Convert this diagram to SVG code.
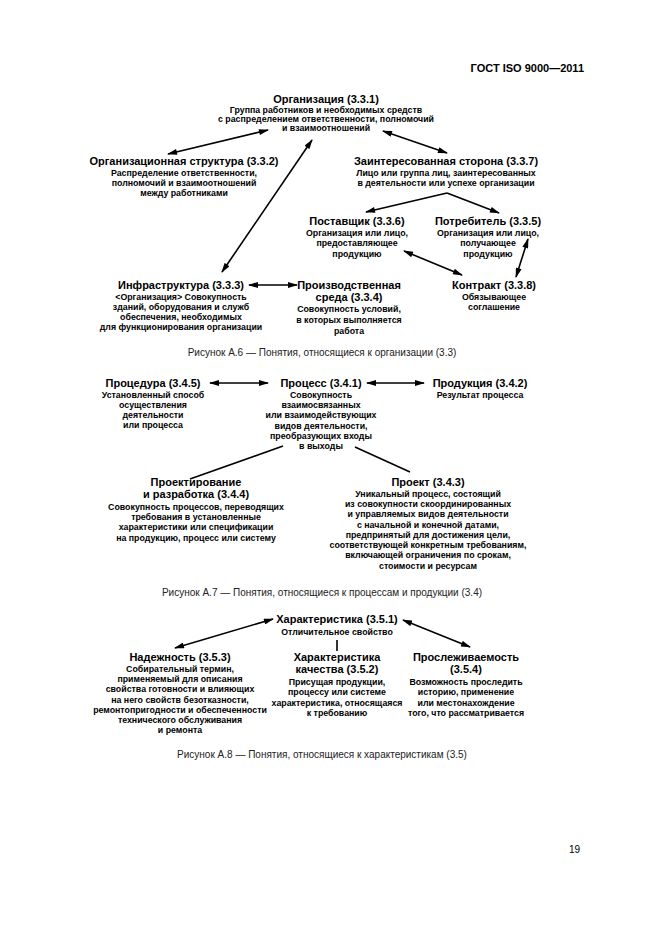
<svg xmlns="http://www.w3.org/2000/svg" width="661" height="935" viewBox="0 0 661 935">
<style>
text{font-family:"Liberation Sans",Arial,sans-serif;fill:#000}
.t{font-size:11px;font-weight:bold;text-anchor:middle}
.d{font-size:8.8px;font-weight:bold;text-anchor:middle}
.cap{font-size:10px;text-anchor:middle;fill:#222}
.hdr{font-size:11px;font-weight:bold;text-anchor:end}
.pg{font-size:10px;text-anchor:end}
.ln{stroke:#000;stroke-width:1.6;fill:none}
.dbl{marker-start:url(#ah);marker-end:url(#ah)}
.one{marker-end:url(#ah)}
</style>
<defs>
<marker id="ah" viewBox="0 0 10 6" refX="9" refY="3" markerWidth="11" markerHeight="6" markerUnits="userSpaceOnUse" orient="auto-start-reverse">
<path d="M0,0 L10,3 L0,6 z" fill="#000"/>
</marker>
</defs>
<rect width="661" height="935" fill="#fff"/>
<text class="hdr" x="584" y="72">ГОСТ ISO 9000—2011</text>

<!-- Figure A.6 -->
<g id="org">
<text class="t" x="326" y="103">Организация (3.3.1)</text>
<text class="d" x="326" y="113">Группа работников и необходимых средств</text>
<text class="d" x="326" y="122">с распределением ответственности, полномочий</text>
<text class="d" x="326" y="131">и взаимоотношений</text>
</g>
<g id="orgstruct">
<text class="t" x="184" y="165">Организационная структура (3.3.2)</text>
<text class="d" x="184" y="176">Распределение ответственности,</text>
<text class="d" x="184" y="186">полномочий и взаимоотношений</text>
<text class="d" x="184" y="196">между работниками</text>
</g>
<g id="interested">
<text class="t" x="446" y="165">Заинтересованная сторона (3.3.7)</text>
<text class="d" x="446" y="176">Лицо или группа лиц, заинтересованных</text>
<text class="d" x="446" y="186">в деятельности или успехе организации</text>
</g>
<g id="supplier">
<text class="t" x="357" y="225">Поставщик (3.3.6)</text>
<text class="d" x="357" y="236">Организация или лицо,</text>
<text class="d" x="357" y="246">предоставляющее</text>
<text class="d" x="357" y="257">продукцию</text>
</g>
<g id="customer">
<text class="t" x="488" y="225">Потребитель (3.3.5)</text>
<text class="d" x="488" y="236">Организация или лицо,</text>
<text class="d" x="488" y="246">получающее</text>
<text class="d" x="488" y="257">продукцию</text>
</g>
<g id="infra">
<text class="t" x="181" y="289">Инфраструктура (3.3.3)</text>
<text class="d" x="181" y="300">&lt;Организация&gt; Совокупность</text>
<text class="d" x="181" y="310">зданий, оборудования и служб</text>
<text class="d" x="181" y="320">обеспечения, необходимых</text>
<text class="d" x="181" y="330">для функционирования организации</text>
</g>
<g id="workenv">
<text class="t" x="349" y="289">Производственная</text>
<text class="t" x="349" y="301">среда (3.3.4)</text>
<text class="d" x="349" y="312">Совокупность условий,</text>
<text class="d" x="349" y="323">в которых выполняется</text>
<text class="d" x="349" y="334">работа</text>
</g>
<g id="contract">
<text class="t" x="494" y="289">Контракт (3.3.8)</text>
<text class="d" x="494" y="300">Обязывающее</text>
<text class="d" x="494" y="310">соглашение</text>
</g>
<text class="cap" x="322" y="356">Рисунок А.6 — Понятия, относящиеся к организации (3.3)</text>

<!-- Figure A.7 -->
<g id="procedure">
<text class="t" x="153" y="387">Процедура (3.4.5)</text>
<text class="d" x="153" y="398">Установленный способ</text>
<text class="d" x="153" y="408">осуществления</text>
<text class="d" x="153" y="418">деятельности</text>
<text class="d" x="153" y="428">или процесса</text>
</g>
<g id="process">
<text class="t" x="321" y="387">Процесс (3.4.1)</text>
<text class="d" x="321" y="398">Совокупность</text>
<text class="d" x="321" y="408">взаимосвязанных</text>
<text class="d" x="321" y="418">или взаимодействующих</text>
<text class="d" x="321" y="429">видов деятельности,</text>
<text class="d" x="321" y="439">преобразующих входы</text>
<text class="d" x="321" y="449">в выходы</text>
</g>
<g id="product">
<text class="t" x="480" y="387">Продукция (3.4.2)</text>
<text class="d" x="480" y="398">Результат процесса</text>
</g>
<g id="design">
<text class="t" x="196" y="486">Проектирование</text>
<text class="t" x="196" y="498">и разработка (3.4.4)</text>
<text class="d" x="196" y="510">Совокупность процессов, переводящих</text>
<text class="d" x="196" y="520">требования в установленные</text>
<text class="d" x="196" y="530">характеристики или спецификации</text>
<text class="d" x="196" y="541">на продукцию, процесс или систему</text>
</g>
<g id="project">
<text class="t" x="428" y="486">Проект (3.4.3)</text>
<text class="d" x="428" y="497">Уникальный процесс, состоящий</text>
<text class="d" x="428" y="507">из совокупности скоординированных</text>
<text class="d" x="428" y="517">и управляемых видов деятельности</text>
<text class="d" x="428" y="528">с начальной и конечной датами,</text>
<text class="d" x="428" y="538">предпринятый для достижения цели,</text>
<text class="d" x="428" y="548">соответствующей конкретным требованиям,</text>
<text class="d" x="428" y="558">включающей ограничения по срокам,</text>
<text class="d" x="428" y="569">стоимости и ресурсам</text>
</g>
<text class="cap" x="322" y="596">Рисунок А.7 — Понятия, относящиеся к процессам и продукции (3.4)</text>

<!-- Figure A.8 -->
<g id="characteristic">
<text class="t" x="337" y="623">Характеристика (3.5.1)</text>
<text class="d" x="337" y="635">Отличительное свойство</text>
</g>
<g id="dependability">
<text class="t" x="180" y="661">Надежность (3.5.3)</text>
<text class="d" x="180" y="672">Собирательный термин,</text>
<text class="d" x="180" y="682">применяемый для описания</text>
<text class="d" x="180" y="692">свойства готовности и влияющих</text>
<text class="d" x="180" y="703">на него свойств безотказности,</text>
<text class="d" x="180" y="713">ремонтопригодности и обеспеченности</text>
<text class="d" x="180" y="723">технического обслуживания</text>
<text class="d" x="180" y="733">и ремонта</text>
</g>
<g id="qualchar">
<text class="t" x="337" y="661">Характеристика</text>
<text class="t" x="337" y="673">качества (3.5.2)</text>
<text class="d" x="337" y="685">Присущая продукции,</text>
<text class="d" x="337" y="695">процессу или системе</text>
<text class="d" x="337" y="706">характеристика, относящаяся</text>
<text class="d" x="337" y="716">к требованию</text>
</g>
<g id="traceability">
<text class="t" x="466" y="661">Прослеживаемость</text>
<text class="t" x="466" y="673">(3.5.4)</text>
<text class="d" x="466" y="685">Возможность проследить</text>
<text class="d" x="466" y="695">историю, применение</text>
<text class="d" x="466" y="706">или местонахождение</text>
<text class="d" x="466" y="716">того, что рассматривается</text>
</g>
<text class="cap" x="322" y="758">Рисунок А.8 — Понятия, относящиеся к характеристикам (3.5)</text>

<g id="connectors">
<line class="ln dbl" x1="268" y1="130" x2="168" y2="154"/>
<line class="ln dbl" x1="383" y1="131" x2="447" y2="153"/>
<line class="ln dbl" x1="312" y1="140" x2="222" y2="272"/>
<line class="ln one" x1="447" y1="193" x2="366" y2="212"/>
<line class="ln one" x1="447" y1="193" x2="499" y2="213"/>
<line class="ln dbl" x1="404" y1="251" x2="462" y2="275"/>
<line class="ln dbl" x1="528" y1="239" x2="516" y2="277"/>
<line class="ln dbl" x1="249" y1="285" x2="297" y2="285"/>
<line class="ln dbl" x1="210" y1="383" x2="268" y2="383"/>
<line class="ln dbl" x1="367" y1="383" x2="424" y2="383"/>
<line class="ln" x1="283" y1="446" x2="190" y2="479"/>
<line class="ln" x1="355" y1="447" x2="410" y2="472"/>
<line class="ln dbl" x1="273" y1="619" x2="175" y2="648"/>
<line class="ln dbl" x1="403" y1="620" x2="470" y2="647"/>
<line class="ln" x1="337" y1="640" x2="337" y2="651"/>
</g>
<text class="pg" x="580" y="853">19</text>
</svg>
